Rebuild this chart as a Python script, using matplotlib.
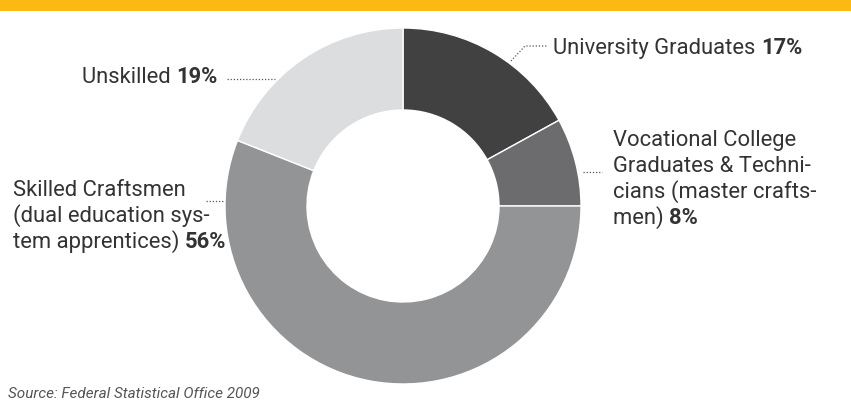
import matplotlib
matplotlib.use("Agg")
import matplotlib.pyplot as plt
import numpy as np

categories = ["University Graduates", "Vocational College Graduates & Technicians (master craftsmen)",
              "Skilled Craftsmen (dual education system apprentices)", "Unskilled"]
values = [17, 8, 56, 19]
colors = ["#414142", "#6c6c6e", "#939496", "#dcdddf"]

plt.rcParams['font.family'] = ['Roboto', 'DejaVu Sans']
W, H = 851, 405
fig = plt.figure(figsize=(W/100, H/100), dpi=100)
ax = fig.add_axes([0, 0, 1, 1])

# top yellow bar
ax.add_patch(plt.Rectangle((0, H-11), W, 11, color="#fdb913", lw=0))

cx, cy, R, r = 403, H-206, 178, 96
wedges, _ = ax.pie(values, colors=colors, startangle=90, counterclock=False,
                   radius=R, center=(cx, cy), frame=True,
                   wedgeprops=dict(width=R-r, edgecolor='white', linewidth=1))
ax.set_xlim(0, W)
ax.set_ylim(0, H)
ax.set_aspect('equal')
ax.axis('off')

tc = "#333333"
fs = 15.8
fig.canvas.draw()
renderer = fig.canvas.get_renderer()

def rich(x, y, parts):
    """parts: list of (text, bold)"""
    xx = x
    for t, b in parts:
        txt = ax.text(xx, y, t, fontsize=fs, color=tc, va='baseline', ha='left',
                      fontweight='bold' if b else 'normal')
        bb = txt.get_window_extent(renderer)
        xx = xx + bb.width
    return xx

def Y(py):
    return H - py

# University Graduates
rich(553, Y(54), [("University Graduates ", False), ("17%", True)])
# Vocational
lines = ["Vocational College", "Graduates & Techni-", "cians (master crafts-"]
for i, l in enumerate(lines):
    rich(613, Y(146 + 26*i), [(l, False)])
rich(613, Y(146 + 78), [("men) ", False), ("8%", True)])
# Skilled
lines = ["Skilled Craftsmen", "(dual education sys-"]
for i, l in enumerate(lines):
    rich(13, Y(196 + 26*i), [(l, False)])
rich(13, Y(196 + 52), [("tem apprentices) ", False), ("56%", True)])
# Unskilled
rich(82, Y(83), [("Unskilled ", False), ("19%", True)])

# leaders
dot = dict(color="#555555", lw=0.9, ls=(0, (1, 1.5)))
ax.plot([511, 525, 547], [Y(61), Y(46), Y(46)], **dot)
ax.plot([583, 602], [Y(172), Y(172)], **dot)
ax.plot([206, 223], [Y(201), Y(201)], **dot)
ax.plot([227, 275], [Y(79), Y(79)], **dot)

ax.text(8, Y(398), "Source: Federal Statistical Office 2009", fontsize=11,
        style='italic', color="#555555", va='baseline')

fig.savefig("out.png", dpi=100)
